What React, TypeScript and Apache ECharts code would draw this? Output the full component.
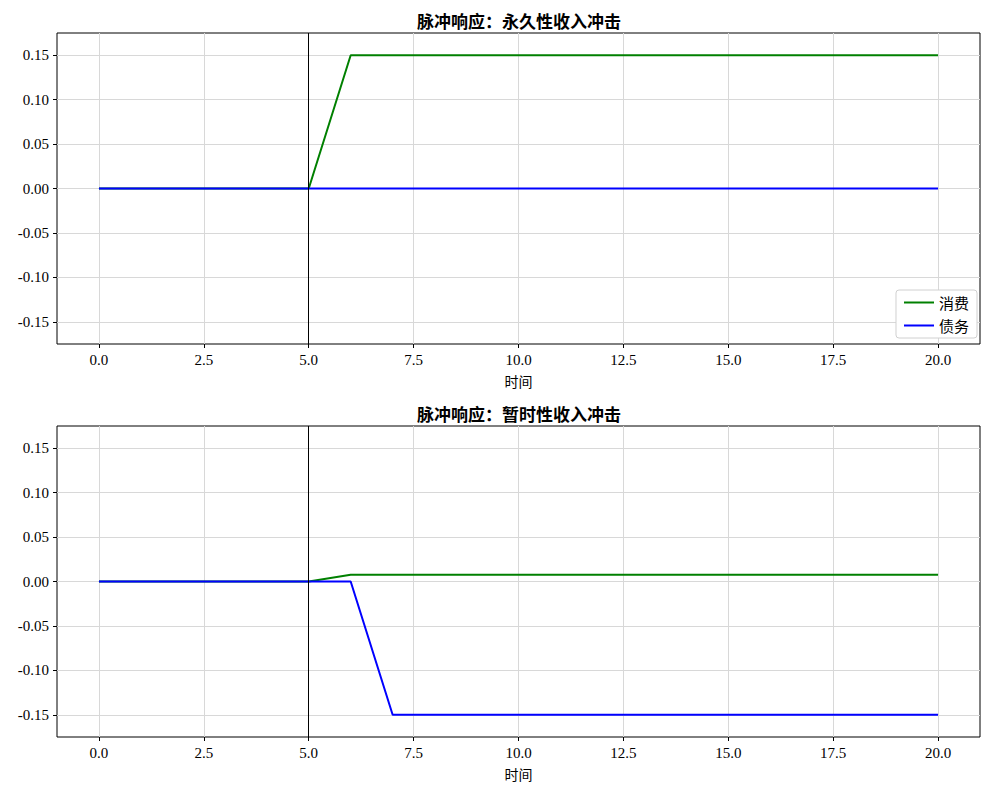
import React, { useEffect, useRef } from "react";
import * as echarts from "echarts";

const timeSteps = [0, 1, 2, 3, 4, 5, 6, 7, 8, 9, 10, 11, 12, 13, 14, 15, 16, 17, 18, 19, 20];
const permConsumption = [0, 0, 0, 0, 0, 0, 0.15, 0.15, 0.15, 0.15, 0.15, 0.15, 0.15, 0.15, 0.15, 0.15, 0.15, 0.15, 0.15, 0.15, 0.15];
const permDebt = [0, 0, 0, 0, 0, 0, 0, 0, 0, 0, 0, 0, 0, 0, 0, 0, 0, 0, 0, 0, 0];
const tempConsumption = [0, 0, 0, 0, 0, 0, 0.0075, 0.0075, 0.0075, 0.0075, 0.0075, 0.0075, 0.0075, 0.0075, 0.0075, 0.0075, 0.0075, 0.0075, 0.0075, 0.0075, 0.0075];
const tempDebt = [0, 0, 0, 0, 0, 0, 0, -0.15, -0.15, -0.15, -0.15, -0.15, -0.15, -0.15, -0.15, -0.15, -0.15, -0.15, -0.15, -0.15, -0.15];
const xTicks = [0, 2.5, 5, 7.5, 10, 12.5, 15, 17.5, 20];
const yTicks = [-0.15, -0.1, -0.05, 0, 0.05, 0.1, 0.15];
const shockTime = 5;
const titles = ["脉冲响应：永久性收入冲击", "脉冲响应：暂时性收入冲击"];
const xLabel = "时间";
const seriesNames = ["消费", "债务"];

const NUM_FONT = "'Liberation Serif', 'Noto Sans CJK SC', serif";
const CJK_FONT = "'Noto Sans CJK SC', 'Liberation Serif', sans-serif";

export default function App() {
  const ref = useRef<HTMLDivElement>(null);
  useEffect(() => {
    document.body.style.margin = "0";
    const chart = echarts.init(ref.current!, null, { renderer: "svg" });
    const grids = [
      { left: 57, right: 10, top: 33, height: 311 },
      { left: 57, right: 10, top: 426, height: 311 },
    ];
    const xAxes = grids.map((_, i) => ({
      type: "value",
      gridIndex: i,
      min: -1,
      max: 21,
      position: "bottom",
      name: xLabel,
      nameLocation: "middle",
      nameGap: 30,
      nameTextStyle: { fontFamily: CJK_FONT, fontSize: 14, color: "#000" },
      axisLine: { show: false, onZero: false },
      axisTick: { show: true, inside: false, length: 4, lineStyle: { color: "#000", width: 1 }, customValues: xTicks },
      axisLabel: {
        customValues: xTicks,
        margin: 8,
        fontFamily: NUM_FONT,
        fontSize: 15,
        color: "#000",
        formatter: (v: number) => v.toFixed(1),
      },
      splitLine: { show: true, lineStyle: { color: "#d8d8d8", width: 1 } },
    }));
    const yAxes = grids.map((_, i) => ({
      type: "value",
      gridIndex: i,
      min: -0.175,
      max: 0.175,
      position: "left",
      axisLine: { show: false, onZero: false },
      axisTick: { show: true, inside: false, length: 4, lineStyle: { color: "#000", width: 1 }, customValues: yTicks },
      axisLabel: {
        customValues: yTicks,
        margin: 8,
        fontFamily: NUM_FONT,
        fontSize: 15,
        color: "#000",
        formatter: (v: number) => v.toFixed(2),
      },
      splitLine: { show: true, lineStyle: { color: "#d8d8d8", width: 1 } },
    }));
    const mk = (name: string, vals: number[], color: string, idx: number, withMark: boolean) => ({
      type: "line",
      name,
      xAxisIndex: idx,
      yAxisIndex: idx,
      data: timeSteps.map((t, j) => [t, vals[j]]),
      showSymbol: false,
      symbol: "none",
      lineStyle: { color, width: 2 },
      itemStyle: { color },
      z: name === seriesNames[1] ? 4 : 3,
      markLine: withMark
        ? {
            silent: true,
            symbol: "none",
            label: { show: false },
            lineStyle: { color: "#000", width: 1, type: "solid" },
            data: [{ xAxis: shockTime }],
          }
        : undefined,
    });
    chart.setOption({
      animation: false,
      backgroundColor: "#fff",
      title: titles.map((t, i) => ({
        text: t,
        left: 514,
        textAlign: "center",
        top: i === 0 ? 7 : 400,
        textStyle: { fontFamily: CJK_FONT, fontSize: 17, fontWeight: "bold", color: "#000" },
      })),
      grid: grids.map((g) => ({ ...g, show: true, borderColor: "#000", borderWidth: 1, backgroundColor: "transparent" })),
      xAxis: xAxes,
      yAxis: yAxes,
      legend: {
        data: seriesNames,
        orient: "vertical",
        right: 13,
        top: 290,
        itemWidth: 30,
        itemHeight: 2,
        itemGap: 8,
        icon: "rect",
        backgroundColor: "#fff",
        borderColor: "#d0d0d0",
        borderWidth: 1,
        borderRadius: 3,
        padding: [5, 8, 5, 8],
        textStyle: { fontFamily: CJK_FONT, fontSize: 15, color: "#000" },
      },
      series: [
        mk(seriesNames[0], permConsumption, "#008000", 0, true),
        mk(seriesNames[1], permDebt, "#0000ff", 0, false),
        mk(seriesNames[0], tempConsumption, "#008000", 1, true),
        mk(seriesNames[1], tempDebt, "#0000ff", 1, false),
      ],
    });
    return () => chart.dispose();
  }, []);
  return <div ref={ref} style={{ width: 990, height: 790 }} />;
}
